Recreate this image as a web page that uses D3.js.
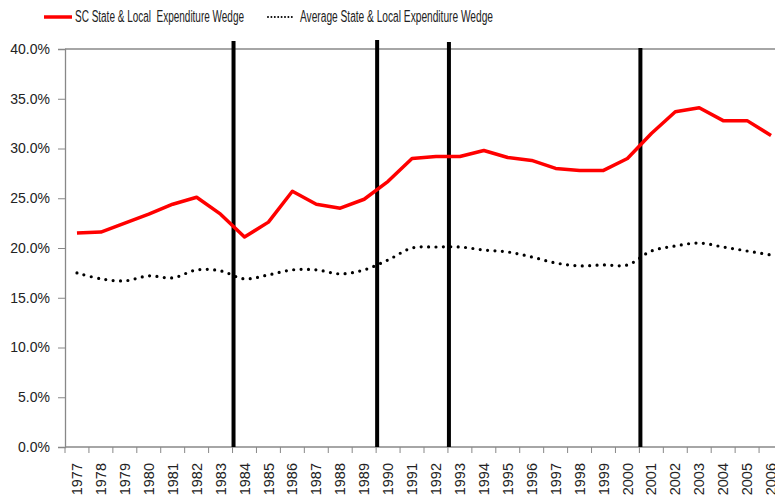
<!DOCTYPE html>
<html lang="en">

<head>
    <script src="https://d3js.org/d3.v7.min.js"></script>
    <style>
        body { margin: 0; background: white; }
        text { font-family: "Liberation Sans", Arial, sans-serif; fill: #222; }
    </style>
</head>

<body>
    <svg id="chart" width="775" height="501"></svg>

    <script>
        // years on the x axis
        const years = d3.range(1977, 2007).map(String);

        // SC state & local expenditure wedge (%)
        const scWedge = [21.5, 21.6, 22.5, 23.4, 24.4, 25.1, 23.4, 21.1, 22.6, 25.7,
            24.4, 24.0, 24.9, 26.7, 29.0, 29.2, 29.2, 29.8, 29.1, 28.8,
            28.0, 27.8, 27.8, 29.0, 31.5, 33.7, 34.1, 32.8, 32.8, 31.3];

        // average state & local expenditure wedge (%)
        const avgWedge = [17.5, 16.9, 16.7, 17.2, 17.0, 17.8, 17.7, 16.9, 17.3, 17.8,
            17.8, 17.4, 17.8, 18.8, 20.0, 20.1, 20.1, 19.8, 19.6, 19.1,
            18.5, 18.2, 18.3, 18.3, 19.7, 20.2, 20.5, 20.1, 19.7, 19.3];

        // black markers sit on the boundary before these years
        const markerYears = ["1984", "1990", "1993", "2001"];
        const markerTops = [40.8, 40.9, 40.7, 40.1];

        const yTicks = [0, 5, 10, 15, 20, 25, 30, 35, 40];

        const svg = d3.select("svg#chart");
        const margins = { top: 49, left: 65, bottom: 54 };
        const plotWidth = 718;
        const plotHeight = 501 - margins.top - margins.bottom;

        const x = d3.scaleBand()
            .domain(years)
            .range([margins.left, margins.left + plotWidth]);

        const y = d3.scaleLinear()
            .domain([0, 40])
            .range([margins.top + plotHeight, margins.top]);

        // plot border (top line)
        svg.append("line")
            .attr("x1", margins.left).attr("x2", margins.left + plotWidth)
            .attr("y1", y(40)).attr("y2", y(40))
            .attr("stroke", "#888").attr("stroke-width", 1.3);

        // y axis
        const yAxis = svg.append("g")
            .attr("transform", `translate(${margins.left},0)`)
            .call(d3.axisLeft(y).tickValues(yTicks).tickSize(7).tickPadding(8)
                .tickFormat(d => d3.format(".1f")(d) + "%"));
        yAxis.selectAll("text").style("font-size", "14px");
        yAxis.select(".domain").attr("stroke", "#888").attr("stroke-width", 1.3);
        yAxis.selectAll(".tick line").attr("stroke", "#888");

        // x axis: ticks on category boundaries
        const xAxis = svg.append("g")
            .attr("transform", `translate(0,${y(0)})`);
        xAxis.append("line")
            .attr("x1", margins.left).attr("x2", margins.left + plotWidth)
            .attr("stroke", "#888").attr("stroke-width", 1.3);
        xAxis.selectAll("line.tick")
            .data(years.concat(["end"]))
            .join("line")
            .attr("class", "tick")
            .attr("x1", (d, i) => margins.left + i * x.bandwidth())
            .attr("x2", (d, i) => margins.left + i * x.bandwidth())
            .attr("y1", 0).attr("y2", 6)
            .attr("stroke", "#888");
        xAxis.selectAll("text")
            .data(years)
            .join("text")
            .attr("transform", d => `translate(${x(d) + x.bandwidth() / 2},16) rotate(-90)`)
            .attr("text-anchor", "end")
            .attr("dy", "0.35em")
            .style("font-size", "14.5px")
            .text(d => d);

        // vertical markers
        svg.selectAll("line.marker")
            .data(markerYears)
            .join("line")
            .attr("class", "marker")
            .attr("x1", d => x(d) + 1)
            .attr("x2", d => x(d) + 1)
            .attr("y1", (d, i) => y(markerTops[i]))
            .attr("y2", y(0))
            .attr("stroke", "black")
            .attr("stroke-width", 4);

        const line = d3.line()
            .x((d, i) => x(years[i]) + x.bandwidth() / 2)
            .y(d => y(d));

        svg.append("path")
            .datum(avgWedge)
            .attr("fill", "none")
            .attr("stroke", "black")
            .attr("stroke-width", 3.2)
            .attr("stroke-linecap", "round")
            .attr("stroke-dasharray", "0 7.4")
            .attr("d", line.curve(d3.curveCatmullRom.alpha(0.5)));

        svg.append("path")
            .datum(scWedge)
            .attr("fill", "none")
            .attr("stroke", "#ff0000")
            .attr("stroke-width", 3.5)
            .attr("stroke-linejoin", "round")
            .attr("d", line.curve(d3.curveLinear));

        // legend
        const legend = svg.append("g").attr("class", "legend");
        legend.append("line")
            .attr("x1", 44).attr("x2", 72).attr("y1", 17).attr("y2", 17)
            .attr("stroke", "#ff0000").attr("stroke-width", 3.5);
        legend.append("text")
            .attr("x", 75).attr("y", 22)
            .attr("textLength", 169)
            .attr("lengthAdjust", "spacingAndGlyphs")
            .style("font-size", "16px")
            .text("SC State & Local\u00a0 Expenditure Wedge");
        legend.append("line")
            .attr("x1", 268).attr("x2", 295).attr("y1", 17).attr("y2", 17)
            .attr("stroke", "black").attr("stroke-width", 2)
            .attr("stroke-linecap", "round")
            .attr("stroke-dasharray", "0 3.4");
        legend.append("text")
            .attr("x", 300).attr("y", 22)
            .attr("textLength", 193)
            .attr("lengthAdjust", "spacingAndGlyphs")
            .style("font-size", "16px")
            .text("Average State & Local Expenditure Wedge");
    </script>

</body>

</html>
